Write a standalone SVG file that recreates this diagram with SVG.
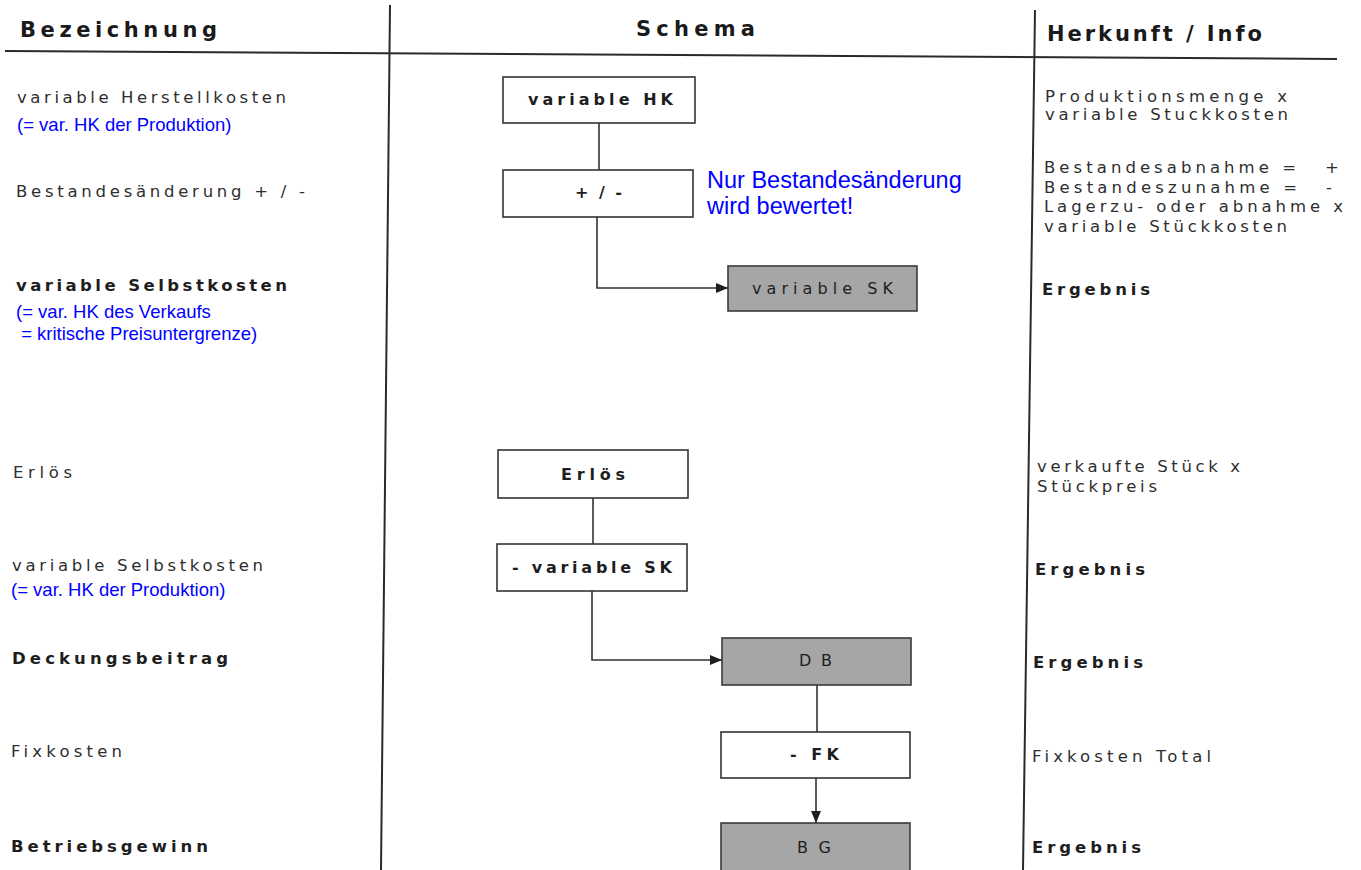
<svg xmlns="http://www.w3.org/2000/svg" width="1361" height="870" viewBox="0 0 1361 870">
<style>
  .t { font-family: "DejaVu Sans", "Liberation Sans", sans-serif; font-size: 16.5px; fill: #2e2e2e; }
  .b { font-weight: bold; fill: #1e1e1e; }
  .h { font-family: "DejaVu Sans", "Liberation Sans", sans-serif; font-size: 21px; font-weight: bold; fill: #1a1a1a; }
  .blue { font-family: "Liberation Sans", Arial, sans-serif; font-size: 18.5px; fill: #0000ff; }
  .note { font-family: "Liberation Sans", Arial, sans-serif; font-size: 23.5px; fill: #0000ff; }
  .box { fill: #ffffff; stroke: #333333; stroke-width: 1.6; }
  .gbox { fill: #a6a6a6; stroke: #3a3a3a; stroke-width: 1.6; }
  .bt { font-family: "DejaVu Sans", "Liberation Sans", sans-serif; font-size: 16px; font-weight: bold; fill: #1e1e1e; }
  .gt { font-family: "DejaVu Sans", "Liberation Sans", sans-serif; font-size: 16px; fill: #1e1e1e; }
  .rule { stroke: #2a2a2a; stroke-width: 2; fill: none; }
  .conn { stroke: #333333; stroke-width: 1.6; fill: none; }
</style>
<defs>
  <marker id="arr" markerWidth="12" markerHeight="10" refX="12" refY="5" orient="auto" markerUnits="userSpaceOnUse">
    <path d="M0,0 L12,5 L0,10 Z" fill="#1e1e1e"/>
  </marker>
</defs>
<rect width="1361" height="870" fill="#ffffff"/>

<g id="table-lines">
  <line class="rule" x1="5" y1="51" x2="1337" y2="59"/>
  <line class="rule" x1="390" y1="5" x2="381" y2="870"/>
  <line class="rule" x1="1035" y1="10" x2="1023" y2="870"/>
</g>

<g id="headers">
  <text class="h" x="20" y="37" textLength="197" lengthAdjust="spacing">Bezeichnung</text>
  <text class="h" x="636" y="36" textLength="119" lengthAdjust="spacing">Schema</text>
  <text class="h" x="1047" y="41" textLength="215" lengthAdjust="spacing">Herkunft / Info</text>
</g>

<g id="left-column">
  <text class="t" x="17" y="103" textLength="269" lengthAdjust="spacing">variable Herstellkosten</text>
  <text class="blue" x="17" y="131">(= var. HK der Produktion)</text>
  <text class="t" x="16" y="197" textLength="289" lengthAdjust="spacing">Bestandesänderung + / -</text>
  <text class="t b" x="16" y="291" textLength="271" lengthAdjust="spacing">variable Selbstkosten</text>
  <text class="blue" x="16" y="318">(= var. HK des Verkaufs</text>
  <text class="blue" x="16" y="340" xml:space="preserve"> = kritische Preisuntergrenze)</text>
  <text class="t" x="13" y="478" textLength="59" lengthAdjust="spacing">Erlös</text>
  <text class="t" x="12" y="571" textLength="251" lengthAdjust="spacing">variable Selbstkosten</text>
  <text class="blue" x="11" y="596">(= var. HK der Produktion)</text>
  <text class="t b" x="12" y="664" textLength="216" lengthAdjust="spacing">Deckungsbeitrag</text>
  <text class="t" x="11" y="757" textLength="111" lengthAdjust="spacing">Fixkosten</text>
  <text class="t b" x="11" y="852" textLength="197" lengthAdjust="spacing">Betriebsgewinn</text>
</g>

<g id="right-column">
  <text class="t" x="1045" y="102" textLength="242" lengthAdjust="spacing">Produktionsmenge x</text>
  <text class="t" x="1045" y="120" textLength="243" lengthAdjust="spacing">variable Stuckkosten</text>
  <text class="t" x="1044" y="173" textLength="252" lengthAdjust="spacing">Bestandesabnahme =</text>
  <text class="t" x="1325" y="173">+</text>
  <text class="t" x="1044" y="193" textLength="253" lengthAdjust="spacing">Bestandeszunahme =</text>
  <text class="t" x="1326" y="193">-</text>
  <text class="t" x="1044" y="212" textLength="299" lengthAdjust="spacing">Lagerzu- oder abnahme x</text>
  <text class="t" x="1044" y="232" textLength="243" lengthAdjust="spacing">variable Stückkosten</text>
  <text class="t b" x="1042" y="295" textLength="108" lengthAdjust="spacing">Ergebnis</text>
  <text class="t" x="1037" y="472" textLength="203" lengthAdjust="spacing">verkaufte Stück x</text>
  <text class="t" x="1037" y="492" textLength="120" lengthAdjust="spacing">Stückpreis</text>
  <text class="t b" x="1035" y="575" textLength="110" lengthAdjust="spacing">Ergebnis</text>
  <text class="t b" x="1033" y="668" textLength="110" lengthAdjust="spacing">Ergebnis</text>
  <text class="t" x="1032" y="762" textLength="179" lengthAdjust="spacing">Fixkosten Total</text>
  <text class="t b" x="1032" y="853" textLength="109" lengthAdjust="spacing">Ergebnis</text>
</g>

<g id="connectors">
  <line class="conn" x1="599" y1="123" x2="599" y2="170"/>
  <polyline class="conn" points="597,217 597,288 728,288" marker-end="url(#arr)"/>
  <line class="conn" x1="593" y1="498" x2="593" y2="544"/>
  <polyline class="conn" points="592,591 592,660 722,660" marker-end="url(#arr)"/>
  <line class="conn" x1="817" y1="685" x2="817" y2="732"/>
  <line class="conn" x1="816" y1="778" x2="816" y2="823" marker-end="url(#arr)"/>
</g>

<g id="node-variable-hk">
  <rect class="box" x="503" y="77" width="192" height="46"/>
  <text class="bt" x="528" y="105" textLength="145" lengthAdjust="spacing">variable HK</text>
</g>
<g id="node-bestand">
  <rect class="box" x="503" y="170" width="190" height="47"/>
  <text class="bt" x="575" y="198" textLength="47" lengthAdjust="spacing">+ / -</text>
</g>
<g id="node-variable-sk">
  <rect class="gbox" x="728" y="266" width="189" height="45"/>
  <text class="gt" x="752" y="294" textLength="141" lengthAdjust="spacing">variable SK</text>
</g>
<g id="note">
  <text class="note" x="707" y="188">Nur Bestandesänderung</text>
  <text class="note" x="707" y="214">wird bewertet!</text>
</g>
<g id="node-erloes">
  <rect class="box" x="498" y="450" width="190" height="48"/>
  <text class="bt" x="561" y="480" textLength="64" lengthAdjust="spacing">Erlös</text>
</g>
<g id="node-minus-vsk">
  <rect class="box" x="497" y="544" width="190" height="47"/>
  <text class="bt" x="512" y="573" textLength="160" lengthAdjust="spacing">- variable SK</text>
</g>
<g id="node-db">
  <rect class="gbox" x="722" y="638" width="189" height="47"/>
  <text class="gt" x="799" y="666" textLength="33" lengthAdjust="spacing">DB</text>
</g>
<g id="node-fk">
  <rect class="box" x="721" y="732" width="189" height="46"/>
  <text class="bt" x="790" y="760" textLength="49" lengthAdjust="spacing">- FK</text>
</g>
<g id="node-bg">
  <rect class="gbox" x="721" y="823" width="189" height="52"/>
  <text class="gt" x="797" y="853" textLength="34" lengthAdjust="spacing">BG</text>
</g>
</svg>
